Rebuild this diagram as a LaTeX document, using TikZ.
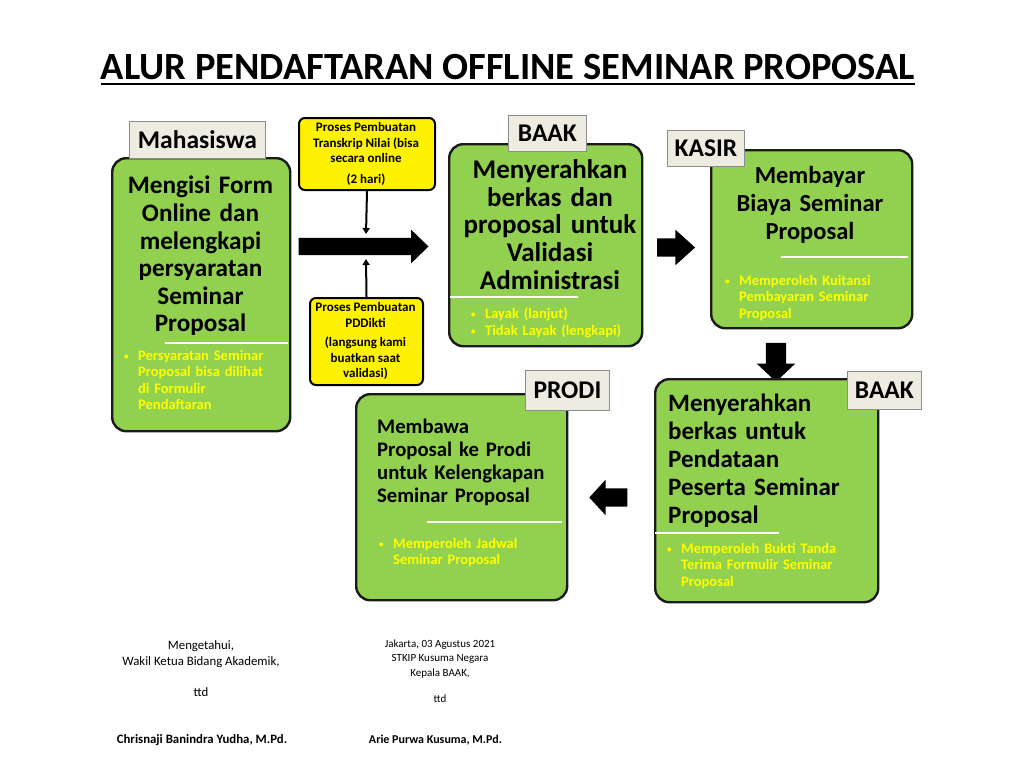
\documentclass[tikz,border=0pt]{standalone}
\usepackage{fontspec}
\setmainfont{Carlito}
\usetikzlibrary{shapes.arrows,arrows.meta}
\definecolor{boxgreen}{HTML}{92D050}
\definecolor{labelfill}{HTML}{EEECE1}
\definecolor{labeldraw}{HTML}{8C8C8C}
\definecolor{bulletyellow}{HTML}{FFFF00}
\definecolor{darkedge}{HTML}{1A1A1A}
\tikzset{
  greenbox/.style={draw=darkedge, line width=2.4pt, fill=boxgreen, rounded corners=14pt, anchor=north west, inner sep=0pt},
  tagbox/.style={draw=labeldraw, line width=0.8pt, fill=labelfill, anchor=north west, inner sep=0pt, font=\fontsize{25.5}{28}\selectfont\bfseries, text=black},
  yellowbox/.style={draw=black, line width=2pt, fill=yellow, rounded corners=6pt, anchor=north west, inner sep=0pt},
  maintext/.style={inner sep=0pt, anchor=north, align=center, text=black},
  lefttext/.style={inner sep=0pt, anchor=north west, align=left, text=black},
  bullets/.style={inner sep=0pt, anchor=north west, align=left, font=\fontsize{14.5}{16.5}\selectfont\bfseries, text=bulletyellow},
  whiteline/.style={draw=white, line width=2.5pt},
  blockarrow/.style={single arrow, fill=black, draw=none, inner sep=10pt, anchor=center},
  thinarrow/.style={draw=black, line width=2pt, -{Triangle[length=6pt,width=7pt]}},
  smalltext/.style={inner sep=0pt, align=center, text=black}
}
\newcommand{\bitem}[1]{\hangindent=14pt\hangafter=1\noindent\makebox[14pt][l]{\raisebox{1pt}{\fontsize{9}{9}\selectfont\textbullet}}#1\par}
\begin{document}
\begin{tikzpicture}[x=1pt,y=-1pt]
\useasboundingbox (0,0) rectangle (1024,768);
\fill[white] (0,0) rectangle (1024,768);

% title
\node[inner sep=0pt, anchor=base, font=\fontsize{38.5}{44}\selectfont\bfseries] (title) at (508,79) {ALUR PENDAFTARAN OFFLINE SEMINAR PROPOSAL};
\draw[line width=2.5pt] ([yshift=-5pt]title.base west) -- ([yshift=-5pt]title.base east);

% box 1 Mahasiswa
\node[greenbox, minimum width=178pt, minimum height=273pt] (b1) at (111,157) {};
\node[tagbox, minimum width=136pt, minimum height=37pt] (l1) at (129,121) {Mahasiswa};
\node[maintext, text width=176pt, font=\fontsize{25.2}{27.6}\selectfont\bfseries] (t1) at (200.5,176) {Mengisi Form\\Online dan\\melengkapi\\persyaratan\\Seminar\\Proposal};
\draw[whiteline] (165,343) -- (288,343);
\node[bullets, text width=175pt] (u1) at (124,350) {\bitem{Persyaratan Seminar\newline Proposal bisa dilihat\newline di Formulir\newline Pendaftaran}};

% yellow boxes
\node[yellowbox, minimum width=136pt, minimum height=72pt] (y1) at (298,117) {};
\node[smalltext, anchor=north, font=\fontsize{13}{15.2}\selectfont\bfseries] (yt1) at (366,122.5) {Proses Pembuatan\\Transkrip Nilai (bisa\\secara online\\[6pt](2 hari)};
\node[yellowbox, minimum width=113pt, minimum height=87pt] (y2) at (309,297) {};
\node[smalltext, anchor=north, font=\fontsize{13}{15.5}\selectfont\bfseries] (yt2) at (365.5,302.5) {Proses Pembuatan\\PDDikti\\[4pt](langsung kami\\buatkan saat\\validasi)};

% big arrow
\node[blockarrow, inner sep=8.5pt, minimum height=130pt, minimum width=33pt, single arrow head extend=8pt, single arrow tip angle=88] (a1) at (359,246.5) {};
\coordinate (j1) at (366,234);
\coordinate (j2) at (366,259);
\draw[thinarrow] (y1.south) -- (j1);
\draw[thinarrow] (y2.north) -- (j2);

% box 2 BAAK
\node[greenbox, minimum width=193pt, minimum height=202pt] (b2) at (448,143) {};
\node[tagbox, minimum width=78pt, minimum height=36pt] (l2) at (508,115) {BAAK};
\node[maintext, text width=190pt, font=\fontsize{27}{27.6}\selectfont\bfseries] (t2) at (550,159.5) {Menyerahkan\\berkas dan\\proposal untuk\\Validasi\\Administrasi};
\draw[whiteline] (450,297) -- (578,297);
\node[bullets, text width=170pt] (u2) at (471,308) {\bitem{Layak (lanjut)}\bitem{Tidak Layak (lengkapi)}};

% arrow 2 -> 3
\node[blockarrow, inner sep=9pt, minimum height=38pt, minimum width=35pt, single arrow head extend=8.5pt, single arrow tip angle=84] (a2) at (671,247.5) {};

% box 3 KASIR
\node[greenbox, minimum width=201pt, minimum height=178pt] (b3) at (710,149) {};
\node[tagbox, minimum width=77pt, minimum height=36pt] (l3) at (667,130) {KASIR};
\node[maintext, text width=196pt, font=\fontsize{24.5}{27.6}\selectfont\bfseries] (t3) at (810,166.5) {Membayar\\Biaya Seminar\\Proposal};
\draw[whiteline] (781,257) -- (908,257);
\node[bullets, text width=175pt] (u3) at (725,275) {\bitem{Memperoleh Kuitansi\newline Pembayaran Seminar\newline Proposal}};

% arrow 3 -> 4
\node[blockarrow, minimum height=39pt, minimum width=38pt, single arrow head extend=9pt, single arrow tip angle=93, shape border rotate=270] (a3) at (776,357.5) {};

% box 4 BAAK
\node[greenbox, minimum width=223pt, minimum height=223pt] (b4) at (654,378) {};
\node[tagbox, minimum width=74pt, minimum height=38pt] (l4) at (847,371) {BAAK};
\node[lefttext, text width=210pt, font=\fontsize{25}{28}\selectfont\bfseries] (t4) at (668,393.5) {Menyerahkan\\berkas untuk\\Pendataan\\Peserta Seminar\\Proposal};
\draw[whiteline] (655,533) -- (779,533);
\node[bullets, text width=205pt] (u4) at (667,543) {\bitem{Memperoleh Bukti Tanda\newline Terima Formulir Seminar\newline Proposal}};

% arrow 4 -> 5
\node[blockarrow, inner sep=9pt, minimum height=38pt, minimum width=35pt, single arrow head extend=8.5pt, single arrow tip angle=95, shape border rotate=180] (a4) at (612.5,497.5) {};

% box 5 PRODI
\node[greenbox, minimum width=211pt, minimum height=206pt] (b5) at (355,393) {};
\node[tagbox, minimum width=84pt, minimum height=40pt] (l5) at (525,370) {PRODI};
\node[lefttext, text width=195pt, font=\fontsize{20.7}{23}\selectfont\bfseries] (t5) at (377,419) {Membawa\\Proposal ke Prodi\\untuk Kelengkapan\\Seminar Proposal};
\draw[whiteline] (427,522) -- (562,522);
\node[bullets, text width=180pt] (u5) at (379,538) {\bitem{Memperoleh Jadwal\newline Seminar Proposal}};

% footer left
\node[smalltext, anchor=north, font=\fontsize{12.8}{16}\selectfont] (f1) at (201,640.5) {Mengetahui,\\Wakil Ketua Bidang Akademik,};
\node[smalltext, anchor=base, font=\fontsize{12.8}{16}\selectfont] (f2) at (201,696) {ttd};
\node[smalltext, anchor=base, font=\fontsize{12.8}{16}\selectfont\bfseries] (f3) at (202,743) {Chrisnaji Banindra Yudha, M.Pd.};

% footer right
\node[smalltext, anchor=north, font=\fontsize{11}{14.5}\selectfont] (f4) at (440,639.5) {Jakarta, 03 Agustus 2021\\STKIP Kusuma Negara\\Kepala BAAK,};
\node[smalltext, anchor=base, font=\fontsize{11}{14}\selectfont] (f5) at (440,702.5) {ttd};
\node[smalltext, anchor=base, font=\fontsize{12}{14}\selectfont\bfseries] (f6) at (435.5,743) {Arie Purwa Kusuma, M.Pd.};
\end{tikzpicture}
\end{document}
